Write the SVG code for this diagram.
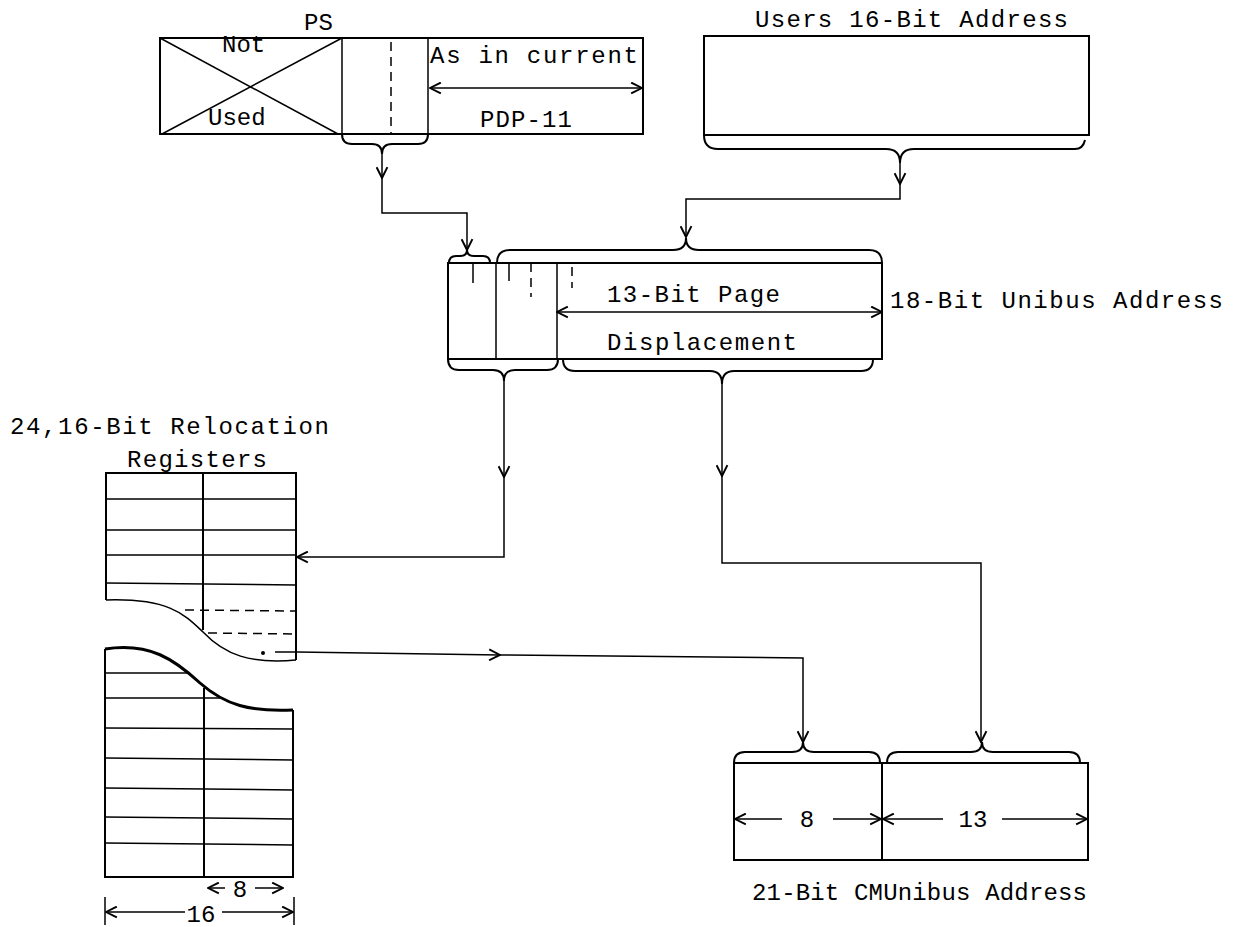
<svg xmlns="http://www.w3.org/2000/svg" width="1243" height="927" viewBox="0 0 1243 927">
<style>
.t{font-family:"Liberation Mono","DejaVu Sans Mono",monospace;font-size:24px;fill:#000}
.m{text-anchor:middle}
.ln{stroke:#000;stroke-width:2;fill:none}
.th{stroke:#000;stroke-width:1.5;fill:none}
.bold{stroke:#000;stroke-width:3;fill:none}
.dash{stroke-dasharray:9 6}
</style>
<defs>
<marker id="a" viewBox="0 0 12 12" refX="11" refY="6" markerWidth="13" markerHeight="13" markerUnits="userSpaceOnUse" orient="auto-start-reverse">
<path d="M1,1 L11,6 L1,11" fill="none" stroke="#000" stroke-width="1.8"/>
</marker>
</defs>
<rect width="1243" height="927" fill="#fff"/>

<g id="ps">
<text class="t" x="304" y="30">PS</text>
<rect class="ln" x="160" y="38" width="483" height="96"/>
<line class="th" x1="160" y1="38" x2="338" y2="134"/>
<line class="th" x1="162" y1="134" x2="342" y2="38"/>
<line class="th" x1="342" y1="38" x2="342" y2="134"/>
<line class="th" x1="428" y1="38" x2="428" y2="134"/>
<line class="th dash" x1="391" y1="42" x2="391" y2="134"/>
<text class="t" x="222" y="52">Not</text>
<text class="t" x="208" y="125">Used</text>
<text class="t" x="430" y="63" textLength="208" lengthAdjust="spacing">As in current</text>
<line class="th" x1="430" y1="88" x2="642" y2="88" marker-start="url(#a)" marker-end="url(#a)"/>
<text class="t" x="480" y="127" textLength="92" lengthAdjust="spacing">PDP-11</text>
<path class="ln" d="M342,134 Q342,144 352,144 H372 Q382,144 382,154 Q382,144 392,144 H418 Q428,144 428,134"/>
</g>

<g id="users">
<text class="t" x="755" y="27" textLength="313" lengthAdjust="spacing">Users 16-Bit Address</text>
<rect class="ln" x="704" y="36" width="385" height="99"/>
<path class="ln" d="M704,135 Q704,149 718,149 H886 Q900,149 900,163 Q900,149 914,149 H1075 Q1083,149 1085,140"/>
</g>

<g id="unibus">
<rect class="ln" x="448" y="263" width="434" height="96"/>
<line class="th" x1="496" y1="263" x2="496" y2="359"/>
<line class="th" x1="557" y1="263" x2="557" y2="359"/>
<line class="th" x1="473" y1="263" x2="473" y2="283"/>
<line class="th" x1="509" y1="263" x2="509" y2="281"/>
<line class="th dash" x1="531" y1="263" x2="531" y2="297"/>
<line class="th dash" x1="572" y1="267" x2="572" y2="288"/>
<text class="t" x="607" y="302" textLength="173" lengthAdjust="spacing">13-Bit Page</text>
<line class="th" x1="557" y1="312" x2="882" y2="312" marker-start="url(#a)" marker-end="url(#a)"/>
<text class="t" x="607" y="350" textLength="190" lengthAdjust="spacing">Displacement</text>
<text class="t" x="890" y="308" textLength="333" lengthAdjust="spacing">18-Bit Unibus Address</text>
<path class="ln" d="M449,263 Q449,256 456,256 H460 Q467,256 467,250 Q467,256 474,256 H483 Q490,256 490,263"/>
<path class="ln" d="M497,263 Q497,250 510,250 H673 Q686,250 686,238 Q686,250 699,250 H869 Q882,250 882,263"/>
<path class="ln" d="M448,359 Q448,370 459,370 H493 Q504,370 504,381 Q504,370 515,370 H547 Q558,370 558,359"/>
<path class="ln" d="M563,359 Q563,371 575,371 H710 Q722,371 722,384 Q722,371 734,371 H861 Q873,371 873,359"/>
</g>

<g id="registers">
<text class="t" x="10" y="434" textLength="319" lengthAdjust="spacing">24,16-Bit Relocation</text>
<text class="t" x="127" y="467" textLength="140" lengthAdjust="spacing">Registers</text>
<path class="ln" d="M106,600 V473 H296 V660"/>
<path class="th" d="M106,600 C170,598 185,615 203,632 C225,655 250,664 296,660"/>
<line class="ln" x1="203" y1="473" x2="203" y2="630"/>
<line class="th" x1="106" y1="499" x2="296" y2="499"/>
<line class="th" x1="106" y1="530" x2="296" y2="530"/>
<line class="th" x1="106" y1="555" x2="296" y2="555"/>
<line class="th" x1="106" y1="583" x2="296" y2="585"/>
<line class="th dash" x1="185" y1="610" x2="296" y2="611"/>
<line class="th dash" x1="208" y1="633" x2="296" y2="634"/>
<line class="th" x1="275" y1="652" x2="296" y2="652"/>
<circle cx="263" cy="653" r="2" fill="#000"/>
<path class="bold" d="M105,649 C150,642 175,660 200,683 C225,705 250,712 293,710"/>
<path class="ln" d="M105,649 V877 H293 V710"/>
<line class="ln" x1="204" y1="688" x2="204" y2="877"/>
<line class="th" x1="105" y1="673" x2="189" y2="673"/>
<line class="th" x1="105" y1="698" x2="220" y2="698"/>
<line class="th" x1="105" y1="728" x2="293" y2="729"/>
<line class="th" x1="105" y1="758" x2="293" y2="760"/>
<line class="th" x1="105" y1="788" x2="293" y2="790"/>
<line class="th" x1="105" y1="817" x2="293" y2="819"/>
<line class="th" x1="105" y1="843" x2="293" y2="845"/>
<line class="th" x1="225" y1="888" x2="208" y2="888" marker-end="url(#a)"/>
<text class="t m" x="240" y="897">8</text>
<line class="th" x1="255" y1="888" x2="283" y2="888" marker-end="url(#a)"/>
<line class="th" x1="105" y1="897" x2="105" y2="925"/>
<line class="th" x1="294" y1="897" x2="294" y2="925"/>
<line class="th" x1="185" y1="912" x2="106" y2="912" marker-end="url(#a)"/>
<text class="t m" x="201" y="922">16</text>
<line class="th" x1="222" y1="912" x2="293" y2="912" marker-end="url(#a)"/>
</g>

<g id="cmunibus">
<rect class="ln" x="734" y="763" width="354" height="97"/>
<line class="ln" x1="882" y1="763" x2="882" y2="860"/>
<path class="ln" d="M734,763 Q734,752 745,752 H792 Q803,752 803,742 Q803,752 814,752 H869 Q880,752 880,763"/>
<path class="ln" d="M887,763 Q887,752 898,752 H971 Q982,752 982,742 Q982,752 993,752 H1069 Q1080,752 1080,763"/>
<line class="th" x1="782" y1="819" x2="735" y2="819" marker-end="url(#a)"/>
<text class="t m" x="807" y="827">8</text>
<line class="th" x1="833" y1="819" x2="881" y2="819" marker-end="url(#a)"/>
<line class="th" x1="943" y1="819" x2="883" y2="819" marker-end="url(#a)"/>
<text class="t m" x="973" y="827">13</text>
<line class="th" x1="1002" y1="819" x2="1087" y2="819" marker-end="url(#a)"/>
<text class="t" x="752" y="900" textLength="335" lengthAdjust="spacing">21-Bit CMUnibus Address</text>
</g>

<g id="connectors">
<path class="th" d="M382,154 V178" marker-end="url(#a)"/>
<path class="th" d="M382,178 V213 H467 V250" marker-end="url(#a)"/>
<path class="th" d="M900,163 V184" marker-end="url(#a)"/>
<path class="th" d="M900,184 V199 H686 V237" marker-end="url(#a)"/>
<path class="th" d="M504,381 V477" marker-end="url(#a)"/>
<path class="th" d="M504,477 V557 H297" marker-end="url(#a)"/>
<path class="th" d="M722,384 V476" marker-end="url(#a)"/>
<path class="th" d="M722,476 V563 H981 V742" marker-end="url(#a)"/>
<path class="th" d="M297,652 L500,655" marker-end="url(#a)"/>
<path class="th" d="M500,655 L803,658 V742" marker-end="url(#a)"/>
</g>
</svg>
